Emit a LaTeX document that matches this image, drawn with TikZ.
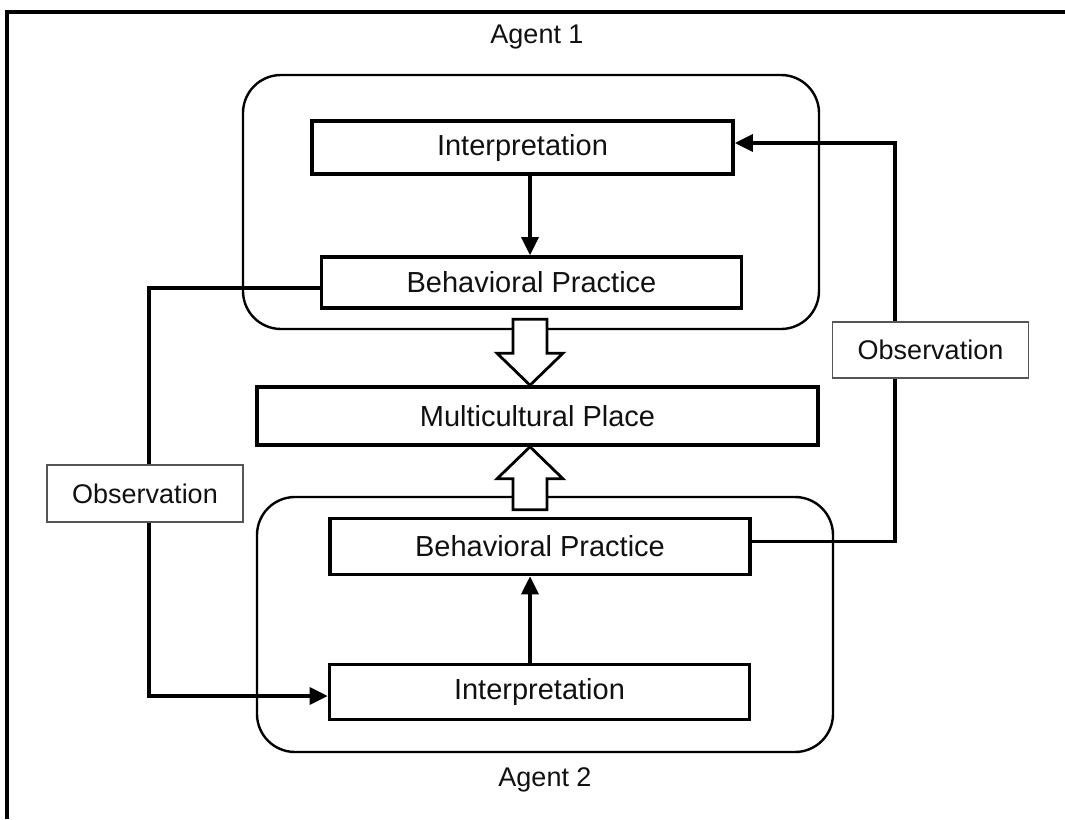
\documentclass[tikz,border=0pt]{standalone}
\usepackage{fontspec}
\setmainfont{Liberation Sans}
\usepackage{tikz}
\usetikzlibrary{arrows.meta,positioning}
\definecolor{inkgrey}{HTML}{111111}
\definecolor{edgegrey}{HTML}{555555}
\tikzset{
  stage/.style={draw=black,line width=3.6pt,minimum width=420pt,minimum height=54pt,
                inner sep=0pt,font=\fontsize{29}{34}\selectfont,text=inkgrey},
  agentbox/.style={draw=black,line width=2.4pt,rounded corners=38pt,inner sep=0pt},
  flow/.style={-{Triangle[length=18pt,width=17pt]},draw=black,line width=3.4pt},
  hollow/.style={draw=black,line width=2.8pt,fill=white,line join=miter}
}

\begin{document}
\begin{tikzpicture}[x=1pt,y=-1pt,
  tag/.style={draw=edgegrey,line width=1.3pt,fill=white,minimum width=196pt,
              minimum height=57pt,inner sep=0pt,font=\fontsize{27}{32}\selectfont,
              text=inkgrey},
  caption/.style={font=\fontsize{27}{32}\selectfont,text=inkgrey}
]
  \useasboundingbox (0,0) rectangle (1065,819);
  \draw[line width=3.2pt] (1065,12) -| (7,819);

  % the two agents
  \node[agentbox,minimum width=576pt,minimum height=254pt] (agentA) at (531,202) {};
  \node[agentbox,minimum width=576pt,minimum height=255pt] (agentB) at (545,624.5) {};
  \node[caption] (nameA) at (537,37) {Agent 1};
  \node[caption] (nameB) at (545,780) {Agent 2};

  \node[stage,minimum width=421pt,minimum height=53pt] (interpA) at (522.5,147.5) {Interpretation};
  \node[stage,minimum height=51pt] (behavA) at (531.5,282.5) {Behavioral Practice};
  \node[stage,minimum width=561pt,minimum height=58pt] (place) at (537.5,416) {Multicultural Place};
  \node[stage,minimum height=56pt] (behavB) at (540,546.5) {Behavioral Practice};
  \node[stage,minimum height=55pt] (interpB) at (539.5,692) {Interpretation};

  \coordinate (axis) at (530,416);
  \coordinate (leftbend) at (149,493);
  \coordinate (rightbend) at (895,350);

  \draw[flow] (interpA.south -| axis) -- (behavA.north -| axis);
  \draw[flow] (interpB.north -| axis) -- (behavB.south -| axis);
  \draw[flow] ([yshift=-5.5pt]behavA.west) -| (leftbend)
    |- ([yshift=-4pt]interpB.west);
  \draw[flow] ([yshift=5pt]behavB.east) -| (rightbend)
    |- ([yshift=4.5pt]interpA.east);

  % hollow arrows into the place
  \draw[hollow] (place.north -| axis) -- ++(-33,-32) -- ++(16,0) -- ++(0,-34)
    -- ++(34,0) -- ++(0,34) -- ++(16,0) -- cycle;
  \draw[hollow] (place.south -| axis) -- ++(-33,32) -- ++(16,0) -- ++(0,31)
    -- ++(34,0) -- ++(0,-31) -- ++(16,0) -- cycle;

  \node[tag] (obsL) at (145,493.5) {Observation};
  \node[tag,minimum height=56pt] (obsR) at (930.5,350) {Observation};
\end{tikzpicture}
\end{document}
